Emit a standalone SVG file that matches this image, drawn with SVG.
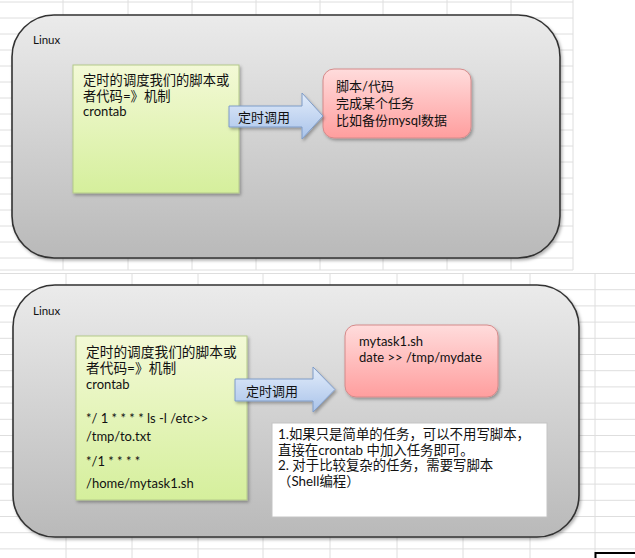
<svg xmlns="http://www.w3.org/2000/svg" width="635" height="558" viewBox="0 0 635 558">
<style>
.grid{stroke:#dedede;stroke-width:1;fill:none}
.cont{stroke:#333;stroke-width:1.6;fill:url(#gGray)}
.green{fill:url(#gGreen);stroke:#b4c98a;stroke-width:1}
.pink{fill:url(#gPink);stroke:#d48a8a;stroke-width:1}
.arrow{fill:url(#gBlue);stroke:#7f9cc8;stroke-width:1}
.note{fill:#ffffff;stroke:#c4c4c4;stroke-width:1}
text{font-family:"Lato","Noto Sans CJK SC",sans-serif;font-size:13px;fill:#111}
.small{font-size:11.5px}
.g1{font-size:13.3px}
.g2{font-size:13.7px}
.n{font-size:13.4px}
</style>
<defs>
<linearGradient id="gGray" x1="0" y1="0" x2="0" y2="1"><stop offset="0" stop-color="#ebebeb"/><stop offset="1" stop-color="#b9b9b9"/></linearGradient>
<linearGradient id="gGreen" x1="0" y1="0" x2="0" y2="1"><stop offset="0" stop-color="#f3f9d6"/><stop offset="1" stop-color="#d5ef9c"/></linearGradient>
<linearGradient id="gPink" x1="0" y1="0" x2="0" y2="1"><stop offset="0" stop-color="#ffdcdc"/><stop offset="1" stop-color="#ff9e9e"/></linearGradient>
<linearGradient id="gBlue" x1="0" y1="0" x2="0" y2="1"><stop offset="0" stop-color="#e2ecfa"/><stop offset="1" stop-color="#a9c3ea"/></linearGradient>
<filter id="sh" x="-10%" y="-10%" width="120%" height="125%"><feDropShadow dx="1.5" dy="2" stdDeviation="1.5" flood-color="#000" flood-opacity="0.3"/></filter>
</defs>
<g id="grid">
<path class="grid" d="M0,2H573M0,18H573M0,34H573M0,50H573M0,66H573M0,82H573M0,98H573M0,114H573M0,130H573M0,146H573M0,162H573M0,178H573M0,194H573M0,210H573M0,226H573M0,242H573M0,258H573M0,270H573M63,0V270M128,0V270M192,0V270M256,0V270M320,0V270M383,0V270M447,0V270M511,0V270M573,0V270"/>
<path class="grid" d="M0,273.5H635M0,289.7H635M0,305.9H635M0,322.1H635M0,338.3H635M0,354.5H635M0,370.7H635M0,386.9H635M0,403.1H635M0,419.3H635M0,435.5H635M0,451.7H635M0,467.9H635M0,484.1H635M0,500.3H635M0,516.5H635M0,532.7H635M0,548.9H635M66,273V558M132,273V558M198,273V558M263,273V558M330,273V558M397,273V558M463,273V558M530,273V558M595,273V558"/>
<rect x="595.5" y="553" width="50" height="20" fill="#fff" stroke="#000" stroke-width="2"/>
</g>
<g id="linux-top">
<rect class="cont" x="12" y="15" width="548" height="243" rx="42" filter="url(#sh)"/>
<text class="small" x="33" y="44">Linux</text>
</g>
<g id="cron-top">
<rect class="green" x="73" y="65" width="166" height="128" filter="url(#sh)"/>
<text class="g1" x="83" y="85">定时的调度我们的脚本或</text>
<text class="g1" x="83" y="101">者代码=》机制</text>
<text x="83" y="116">crontab</text>
</g>
<g id="script-top">
<rect class="pink" x="323" y="69" width="148" height="69" rx="11" filter="url(#sh)"/>
<text x="336" y="91">脚本/代码</text>
<text x="336" y="108">完成某个任务</text>
<text x="336" y="125">比如备份mysql数据</text>
</g>
<g id="linux-bottom">
<rect class="cont" x="13" y="285" width="566" height="252" rx="42" filter="url(#sh)"/>
<text class="small" x="33" y="315">Linux</text>
</g>
<g id="cron-bottom">
<rect class="green" x="76" y="336" width="171" height="164" filter="url(#sh)"/>
<text class="g2" x="86" y="357">定时的调度我们的脚本或</text>
<text class="g2" x="86" y="373">者代码=》机制</text>
<text x="86" y="389">crontab</text>
<text x="86" y="423">*/ 1 * * * * ls -l /etc&gt;&gt;</text>
<text x="86" y="441">/tmp/to.txt</text>
<text x="86" y="466">*/1 * * * *</text>
<text x="86" y="488">/home/mytask1.sh</text>
</g>
<g id="script-bottom">
<rect class="pink" x="345" y="325" width="153" height="72" rx="11" filter="url(#sh)"/>
<text x="359" y="346">mytask1.sh</text>
<text x="359" y="362">date &gt;&gt; /tmp/mydate</text>
</g>
<g id="note">
<rect class="note" x="272" y="423" width="275" height="94"/>
<text class="n" x="278" y="439">1.如果只是简单的任务，可以不用写脚本，</text>
<text class="n" x="278" y="454.5">直接在crontab 中加入任务即可。</text>
<text class="n" x="278" y="470">2. 对于比较复杂的任务，需要写脚本</text>
<text class="n" x="278" y="485.5">（Shell编程）</text>
</g>
<g id="connectors">
<path class="arrow" d="M229,106H302V93L323,116L302,139V127H229Z" filter="url(#sh)"/>
<text x="238" y="122">定时调用</text>
<path class="arrow" d="M235,379H313V367L335,389.5L313,412V401H235Z" filter="url(#sh)"/>
<text x="246" y="396">定时调用</text>
</g>
</svg>
